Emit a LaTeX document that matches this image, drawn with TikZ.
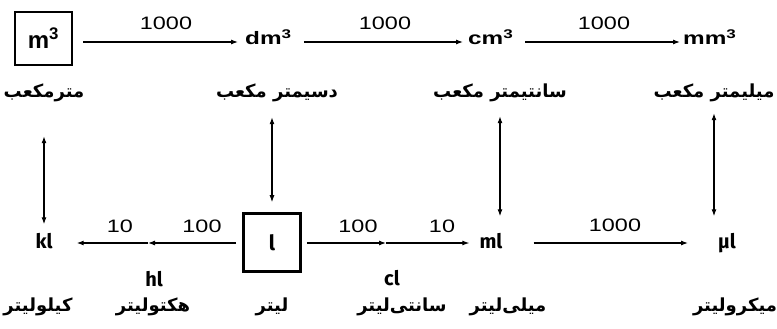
\documentclass[tikz,border=0pt]{standalone}
\usepackage{fontspec}
\setmainfont{Liberation Sans}
\newfontfamily\unitfont[FakeStretch=1.35]{Liberation Sans}
\newfontfamily\numfont[FakeStretch=1.3]{Liberation Sans}
\newfontfamily\lfont{Fira Sans}
\newfontfamily\farsi[Script=Arabic]{DejaVu Sans}
\TeXXeTstate=1
\usetikzlibrary{arrows.meta}
\begin{document}
\begin{tikzpicture}[x=1pt,y=-1pt,
 unit/.style={font=\fontsize{18}{22}\selectfont\unitfont\bfseries, inner sep=0pt, text height=8pt, text depth=2pt, anchor=west},
 lit/.style={font=\fontsize{20}{24}\selectfont\lfont\bfseries, inner sep=0pt, text height=12pt, text depth=1pt},
 num/.style={font=\fontsize{18}{22}\selectfont\numfont, inner sep=0pt},
 fa/.style={font=\fontsize{18}{22}\selectfont\farsi\bfseries, inner sep=1pt},
 boxed/.style={draw, line width=2.6pt, inner sep=0pt},
 tip/.style={-{Latex[length=7pt,width=5pt]}},
 conn/.style={line width=1.1pt, tip},
 dbl/.style={line width=1.1pt, {Latex[length=7pt,width=5pt]}-{Latex[length=7pt,width=5pt]}}]
\useasboundingbox (0,0) rectangle (777,329);
% top row
\node[boxed, minimum width=57pt, minimum height=53pt, font=\fontsize{24}{28}\selectfont\bfseries] (m3) at (43.5,38.5) {m\textsuperscript{3}};
\node[unit] (dm3) at (245,42) {dm\textsuperscript{3}};
\node[unit] (cm3) at (468,42) {cm\textsuperscript{3}};
\node[unit] (mm3) at (683,42) {mm\textsuperscript{3}};
\draw[conn, shorten <=10pt, shorten >=7pt] (m3.east |- dm3.west) -- (dm3.west);
\draw[conn, shorten <=12pt, shorten >=5pt] (dm3.east) -- (cm3.west);
\draw[conn, shorten <=12pt, shorten >=3pt] (cm3.east) -- (mm3.west);
\node[num] (n1) at (166,23.5) {1000};
\node[num] (n2) at (385,23.5) {1000};
\node[num] (n3) at (604,23.5) {1000};
% top farsi labels
\node[fa] (fm3) at (44,93) {\beginR مترمکعب\endR};
\node[fa] (fdm3) at (277,93) {\beginR دسیمتر مکعب\endR};
\node[fa] (fcm3) at (500,93) {\beginR سانتیمتر مکعب\endR};
\node[fa] (fmm3) at (714,93) {\beginR میلیمتر مکعب\endR};
% bottom row
\node[lit] (kl) at (44,243) {kl};
\node[boxed, minimum width=57pt, minimum height=58pt, font=\fontsize{21}{25}\selectfont\lfont\bfseries] (L) at (272,242.5) {l};
\node[lit] (ml) at (491,243) {ml};
\node[lit] (ul) at (727,243) {µl};
\coordinate (hlp) at (148,243);
\coordinate (clp) at (386,243);
\node[lit] (hl) at (154,281) {hl};
\node[lit] (cl) at (392,280) {cl};
\draw[conn, shorten <=6pt] (L.west |- kl) -- (hlp);
\draw[conn, shorten >=24pt] (hlp) -- (kl.east);
\draw[conn, shorten <=5pt] (L.east |- ml) -- (clp);
\draw[conn, shorten >=10pt] (clp) -- (ml.west);
\draw[conn, shorten <=31pt, shorten >=30pt] (ml.east) -- (ul.west);
\node[num] (b1) at (120,226) {10};
\node[num] (b2) at (202,226) {100};
\node[num] (b3) at (358,226) {100};
\node[num] (b4) at (442,226) {10};
\node[num] (b5) at (615,225) {1000};
% bottom farsi labels
\node[fa] (fkl) at (38,307) {\beginR کیلولیتر\endR};
\node[fa] (fhl) at (153,307) {\beginR هکتولیتر\endR};
\node[fa] (fL) at (272,307) {\beginR لیتر\endR};
\node[fa] (fcl) at (402,307) {\beginR سانتی^^^^200cلیتر\endR};
\node[fa] (fml) at (508,307) {\beginR میلی^^^^200cلیتر\endR};
\node[fa] (ful) at (735,307) {\beginR میکرولیتر\endR};
% vertical double arrows
\draw[dbl, shorten <=33pt, shorten >=12pt] (kl.north |- fm3.south) -- (kl.north);
\draw[dbl, shorten <=14pt, shorten >=10pt] (L.north |- fdm3.south) -- (L.north);
\draw[dbl, shorten <=13pt, shorten >=20pt] (fcm3.south) -- (fcm3.south |- ml.north);
\draw[dbl, shorten <=10pt, shorten >=20pt] (fmm3.south) -- (fmm3.south |- ul.north);
\end{tikzpicture}
\end{document}
